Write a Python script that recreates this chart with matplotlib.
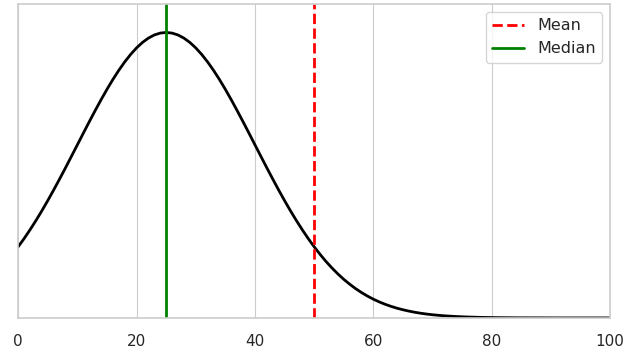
import matplotlib
matplotlib.use("Agg")
import matplotlib.pyplot as plt
import seaborn as sns

# curve (relative height, one value per x unit)
x_vals = list(range(0, 101))
density = [0.2494, 0.2780, 0.3087, 0.3411, 0.3753, 0.4111, 0.4483, 0.4868, 0.5261, 0.5662,
           0.6065, 0.6469, 0.6869, 0.7261, 0.7642, 0.8007, 0.8353, 0.8674, 0.8968, 0.9231,
           0.9460, 0.9651, 0.9802, 0.9912, 0.9978, 1.0,
           0.9978, 0.9912, 0.9802, 0.9651, 0.9460, 0.9231, 0.8968, 0.8674, 0.8353, 0.8007,
           0.7642, 0.7261, 0.6869, 0.6469, 0.6065, 0.5662, 0.5261, 0.4868, 0.4483, 0.4111,
           0.3753, 0.3411, 0.3087, 0.2780, 0.2494, 0.2227, 0.1979, 0.1752, 0.1543, 0.1353,
           0.1182, 0.1027, 0.0889, 0.0766, 0.0657, 0.0561, 0.0477, 0.0404, 0.0340, 0.0286,
           0.0239, 0.0198, 0.0164, 0.0135, 0.0111, 0.0091, 0.0074, 0.0060, 0.0048, 0.0039,
           0.0031, 0.0025, 0.0019, 0.0015, 0.0012, 0.0009, 0.0007, 0.0006, 0.0004, 0.0003,
           0.0003, 0.0002, 0.0002, 0.0001, 0.0001, 0.0, 0.0, 0.0, 0.0, 0.0,
           0.0, 0.0, 0.0, 0.0, 0.0]
mean_val = 50
median_val = 25

sns.set_style("whitegrid")

fig, ax = plt.subplots(figsize=(6.27, 3.56), dpi=100)
fig.subplots_adjust(left=0.029, right=0.973, top=0.989, bottom=0.107)

ax.plot(x_vals, density, color="black", lw=2)
ax.axvline(mean_val, color="red", ls="--", lw=2, label="Mean")
ax.axvline(median_val, color="green", ls="-", lw=2, label="Median")

ax.set_xlim(0, 100)
ax.set_ylim(0, 1.1)
ax.set_yticks([])
ax.tick_params(axis="x", labelsize=11, colors="#262626", pad=8)
for s in ax.spines.values():
    s.set_color("#cccccc")
    s.set_linewidth(1.2)

ax.legend(loc="upper right", fontsize=11.5)

fig.savefig("out.png", dpi=100)
